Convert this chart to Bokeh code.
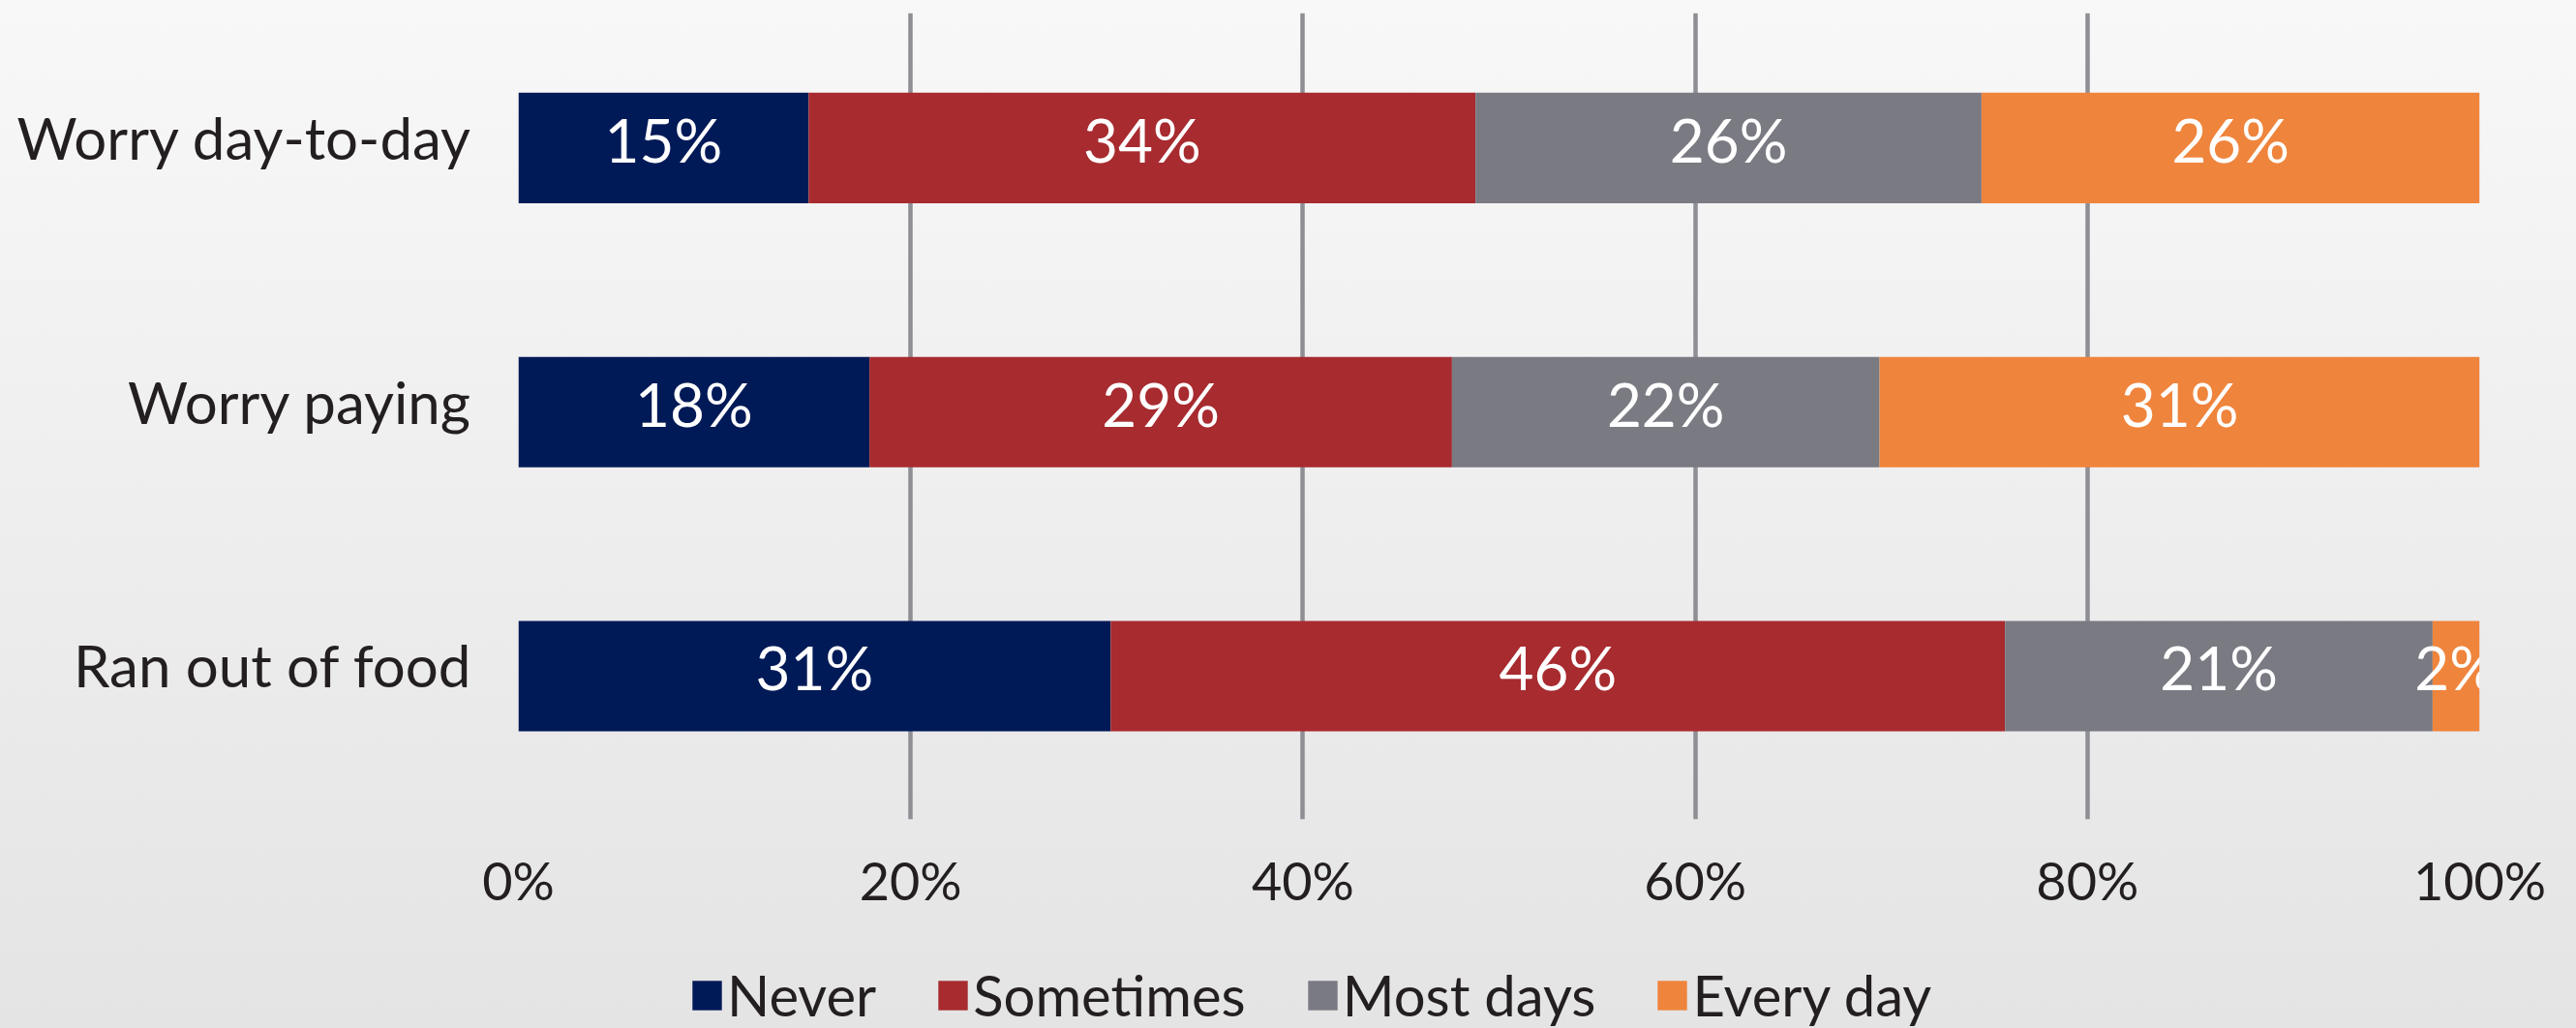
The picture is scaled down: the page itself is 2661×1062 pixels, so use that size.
from bokeh.plotting import figure
from bokeh.layouts import column
from bokeh.models import ColumnDataSource, Range1d, FixedTicker, Legend, LegendItem
from bokeh.core.properties import value
from bokeh.embed import file_html
from bokeh.resources import INLINE

# ---- data ----
categories = ["Worry day-to-day", "Worry paying", "Ran out of food"]
series_names = ["Never", "Sometimes", "Most days", "Every day"]
never = [14.8, 17.9, 30.2]
sometimes = [34.0, 29.7, 45.6]
most_days = [25.8, 21.8, 21.8]
every_day = [25.4, 30.6, 2.4]
never_labels = ["15%", "18%", "31%"]
sometimes_labels = ["34%", "29%", "46%"]
most_days_labels = ["26%", "22%", "21%"]
every_day_labels = ["26%", "31%", "2%"]
x_ticks = [0, 20, 40, 60, 80, 100]
x_tick_labels = ["0%", "20%", "40%", "60%", "80%", "100%"]

series_values = [never, sometimes, most_days, every_day]
series_labels = [never_labels, sometimes_labels, most_days_labels, every_day_labels]
colors = ["#001a57", "#a72b2f", "#797a82", "#ef843c"]

FONT = "Lato"
W, H_MAIN, H_LEG = 2661, 980, 82
ypos = [len(categories) - 1 - i for i in range(len(categories))]
label_nudge = 0.04  # lift category labels slightly above bar centres

p = figure(width=W, height=H_MAIN, output_backend="svg", toolbar_location=None,
           x_range=Range1d(0, 100), y_range=Range1d(-0.543, 2.511),
           min_border_left=535, min_border_right=100, min_border_top=13,
           min_border_bottom=H_MAIN - 846)
p.background_fill_alpha = 0
p.border_fill_alpha = 0
p.outline_line_color = None

left = [0.0] * len(categories)
for name, vals, labs, col in zip(series_names, series_values, series_labels, colors):
    right = [l + v for l, v in zip(left, vals)]
    mid = [(l + r) / 2 for l, r in zip(left, right)]
    src = ColumnDataSource(dict(y=ypos, left=left, right=right, mid=mid, lab=labs))
    p.hbar(y="y", left="left", right="right", height=0.418, source=src,
           fill_color=col, line_color=None)
    p.text(x="mid", y="y", text="lab", source=src, text_color="white",
           text_font=value(FONT), text_font_size="62px", text_align="center",
           text_baseline="middle", y_offset=-9)
    left = right

# grid
p.ygrid.grid_line_color = None
p.xgrid.ticker = FixedTicker(ticks=x_ticks)
p.xgrid.grid_line_color = "#8e8f94"
p.xgrid.grid_line_width = 4.5

# x axis
p.xaxis.ticker = FixedTicker(ticks=x_ticks)
p.xaxis.major_label_overrides = {t: l for t, l in zip(x_ticks, x_tick_labels)}
p.xaxis.axis_line_color = None
p.xaxis.major_tick_line_color = None
p.xaxis.minor_tick_line_color = None
p.xaxis.major_label_text_font = FONT
p.xaxis.major_label_text_font_size = "54px"
p.xaxis.major_label_text_color = "#231f20"
p.xaxis.major_label_standoff = 24

# y axis
yticks = [y + label_nudge for y in ypos]
p.yaxis.ticker = FixedTicker(ticks=yticks)
p.yaxis.major_label_overrides = {y: c for y, c in zip(yticks, categories)}
p.yaxis.axis_line_color = None
p.yaxis.major_tick_line_color = None
p.yaxis.minor_tick_line_color = None
p.yaxis.major_label_text_font = FONT
p.yaxis.major_label_text_font_size = "60px"
p.yaxis.major_label_text_color = "#231f20"
p.yaxis.major_label_standoff = 42

# legend strip (separate figure so the legend is not clipped)
pl = figure(width=W, height=H_LEG, output_backend="svg", toolbar_location=None,
            x_range=Range1d(0, 1), y_range=Range1d(0, 1),
            x_axis_type=None, y_axis_type=None,
            min_border_left=0, min_border_right=0, min_border_top=0, min_border_bottom=0)
pl.background_fill_alpha = 0
pl.border_fill_alpha = 0
pl.outline_line_color = None
pl.grid.grid_line_color = None
items = []
for name, col in zip(series_names, colors):
    # legend swatch source, kept outside the visible range of this strip
    r = pl.hbar(y=[-5], left=[0], right=[1], height=0.5, fill_color=col, line_color=None)
    items.append(LegendItem(label=name, renderers=[r]))
legend = Legend(items=items, orientation="horizontal", location=(176, 0),
                glyph_width=38, glyph_height=38, label_standoff=2, spacing=60,
                padding=0, margin=0, border_line_alpha=0, background_fill_alpha=0,
                label_text_font=FONT, label_text_font_size="58px",
                label_text_color="#231f20")
pl.add_layout(legend, "center")

layout = column(p, pl, spacing=0)
layout.styles = {"background": "linear-gradient(to bottom, #f8f8f8, #e4e4e5)"}

open("out.html", "w").write(file_html(layout, INLINE))
